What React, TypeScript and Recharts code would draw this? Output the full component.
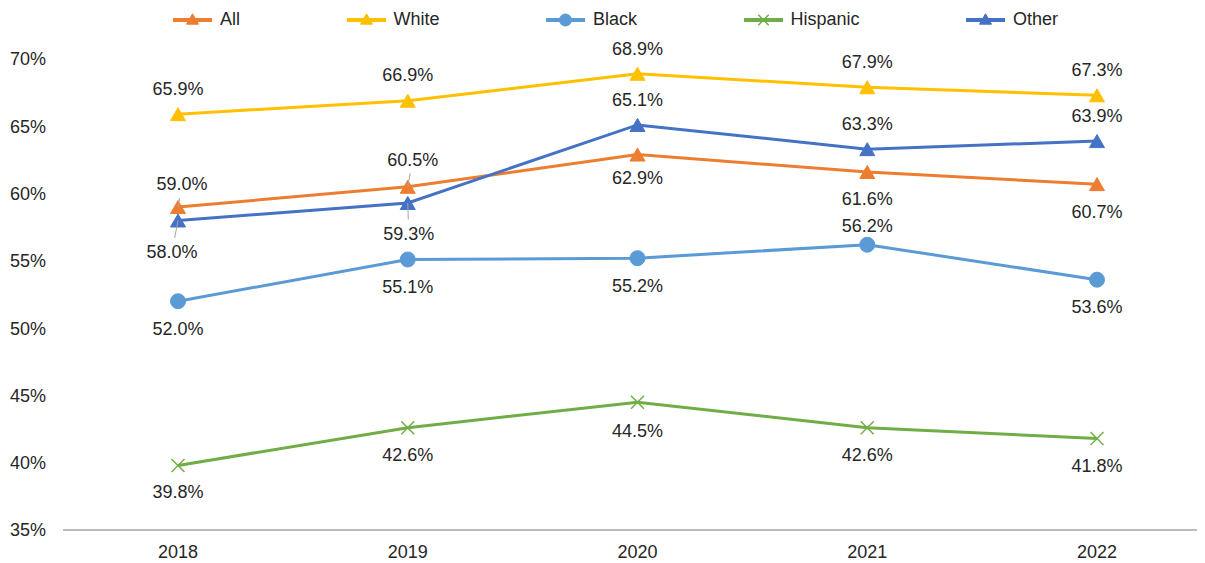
import React from 'react';
import { LineChart, Line, XAxis, YAxis, LabelList } from 'recharts';

// ---- data ----
const years = ['2018', '2019', '2020', '2021', '2022'];
const allValues = [59.0, 60.5, 62.9, 61.6, 60.7];
const whiteValues = [65.9, 66.9, 68.9, 67.9, 67.3];
const blackValues = [52.0, 55.1, 55.2, 56.2, 53.6];
const hispanicValues = [39.8, 42.6, 44.5, 42.6, 41.8];
const otherValues = [58.0, 59.3, 65.1, 63.3, 63.9];
const yTicks = [35, 40, 45, 50, 55, 60, 65, 70];

const data = years.map((year, i) => ({
  year,
  All: allValues[i],
  White: whiteValues[i],
  Black: blackValues[i],
  Hispanic: hispanicValues[i],
  Other: otherValues[i],
}));

const FONT = '"Liberation Sans", Arial, Helvetica, sans-serif';
const TEXT = '#262626';
const FS = 18;

type Shape = 'triangle' | 'circle' | 'x';

interface SeriesCfg {
  key: string;
  color: string;
  shape: Shape;
  labelDy: number[];
  labelDx: number[];
  leader: boolean[];
}

const series: SeriesCfg[] = [
  { key: 'All', color: '#ED7D31', shape: 'triangle', labelDy: [-23, -27.5, 23.5, 27, 27], labelDx: [4, 5, 0, 0, 0], leader: [true, true, false, false, false] },
  { key: 'White', color: '#FFC000', shape: 'triangle', labelDy: [-26, -26, -25.5, -25.5, -25.5], labelDx: [0, 0, 0, 0, 0], leader: [false, false, false, false, false] },
  { key: 'Black', color: '#5B9BD5', shape: 'circle', labelDy: [27, 27.5, 27.5, -19.5, 26.5], labelDx: [0, 0, 0, 0, 0], leader: [false, false, false, false, false] },
  { key: 'Hispanic', color: '#70AD47', shape: 'x', labelDy: [26.5, 27, 28.5, 27, 27], labelDx: [0, 0, 0, 0, 0], leader: [false, false, false, false, false] },
  { key: 'Other', color: '#4472C4', shape: 'triangle', labelDy: [31.5, 30.5, -25.5, -25.5, -25.5], labelDx: [-6, 1, 0, 0, 0], leader: [true, true, false, false, false] },
];

function Marker({ cx, cy, shape, color, scale = 1 }: { cx: number; cy: number; shape: Shape; color: string; scale?: number }) {
  if (shape === 'triangle') {
    const w = 15 * scale;
    const h = 13 * scale;
    return (
      <polygon
        points={`${cx},${cy - h / 2} ${cx + w / 2},${cy + h / 2} ${cx - w / 2},${cy + h / 2}`}
        fill={color}
        stroke={color}
        strokeWidth={1}
      />
    );
  }
  if (shape === 'circle') {
    return <circle cx={cx} cy={cy} r={7.5 * scale} fill={color} stroke={color} strokeWidth={1} />;
  }
  const s = 6.5 * scale;
  return (
    <g stroke={color} strokeWidth={1.5}>
      <line x1={cx - s} y1={cy - s} x2={cx + s} y2={cy + s} />
      <line x1={cx - s} y1={cy + s} x2={cx + s} y2={cy - s} />
    </g>
  );
}

function makeLabel(cfg: SeriesCfg) {
  return (p: any) => {
    const idx: number = p.index;
    const px: number = p.viewBox && typeof p.viewBox.x === 'number' ? p.viewBox.x : p.x;
    const py: number = p.viewBox && typeof p.viewBox.y === 'number' ? p.viewBox.y : p.y;
    if (typeof px !== 'number' || typeof py !== 'number') return null;
    const dy = cfg.labelDy[idx] ?? -25;
    const dx = cfg.labelDx[idx] ?? 0;
    const lx = px + dx;
    const ly = py + dy;
    const v = Number(p.value).toFixed(1) + '%';
    let leader = null;
    if (cfg.leader[idx]) {
      const dir = dy < 0 ? -1 : 1;
      const endY = ly - dir * 14;
      const endX = px + dx * ((endY - py) / dy);
      leader = <line x1={px} y1={py} x2={endX} y2={endY} stroke="#a6a6a6" strokeWidth={1} />;
    }
    return (
      <g key={`lbl-${cfg.key}-${idx}`}>
        {leader}
        <text x={lx} y={ly + 0.355 * FS} textAnchor="middle" fontSize={FS} fontFamily={FONT} fill={TEXT}>
          {v}
        </text>
      </g>
    );
  };
}

function LegendBox() {
  return (
    <div
      style={{
        position: 'absolute',
        top: 0,
        left: 165,
        height: 23,
        display: 'flex',
        alignItems: 'center',
        gap: 106.5,
        fontFamily: FONT,
        fontSize: FS,
        color: TEXT,
        whiteSpace: 'nowrap',
      }}
    >
      {series.map((s) => (
        <div key={s.key} style={{ display: 'flex', alignItems: 'center', height: 23 }}>
          <svg width={39} height={20} style={{ marginRight: 8, display: 'block' }}>
            <line x1={0} y1={10} x2={39} y2={10} stroke={s.color} strokeWidth={4} />
            <Marker cx={19.5} cy={s.shape === 'triangle' ? 9 : 10} shape={s.shape} color={s.color} scale={0.8} />
          </svg>
          <span style={{ lineHeight: '23px' }}>{s.key}</span>
        </div>
      ))}
    </div>
  );
}

export default function App() {
  return (
    <div style={{ position: 'relative', width: 1197, height: 555, overflow: 'hidden', fontFamily: FONT }}>
      <LineChart width={1204} height={555} data={data} margin={{ top: 51, right: 0, bottom: 0, left: 0 }}>
        <XAxis
          dataKey="year"
          interval={0}
          padding={{ left: 115, right: 115 }}
          height={33}
          tickLine={false}
          tickSize={0}
          tickMargin={15}
          axisLine={{ stroke: '#a6a6a6', strokeWidth: 1.3 }}
          tick={{ fontSize: FS, fill: TEXT, fontFamily: FONT }}
        />
        <YAxis
          width={55}
          domain={[35, 70]}
          ticks={yTicks}
          interval={0}
          axisLine={false}
          tickLine={false}
          tickSize={0}
          tickMargin={17}
          tickFormatter={(v: number) => `${v}%`}
          tick={{ fontSize: FS, fill: TEXT, fontFamily: FONT }}
        />
        {series.map((s) => (
          <Line
            key={s.key}
            dataKey={s.key}
            type="linear"
            stroke={s.color}
            strokeWidth={3}
            isAnimationActive={false}
            dot={(p: any) =>
              typeof p.cx === 'number' ? (
                <Marker key={`dot-${s.key}-${p.index}`} cx={p.cx} cy={p.cy} shape={s.shape} color={s.color} />
              ) : (
                <g key={`dot-${s.key}-${p.index}`} />
              )
            }
            activeDot={false}
          >
            <LabelList dataKey={s.key} content={makeLabel(s)} />
          </Line>
        ))}
      </LineChart>
      <LegendBox />
    </div>
  );
}
